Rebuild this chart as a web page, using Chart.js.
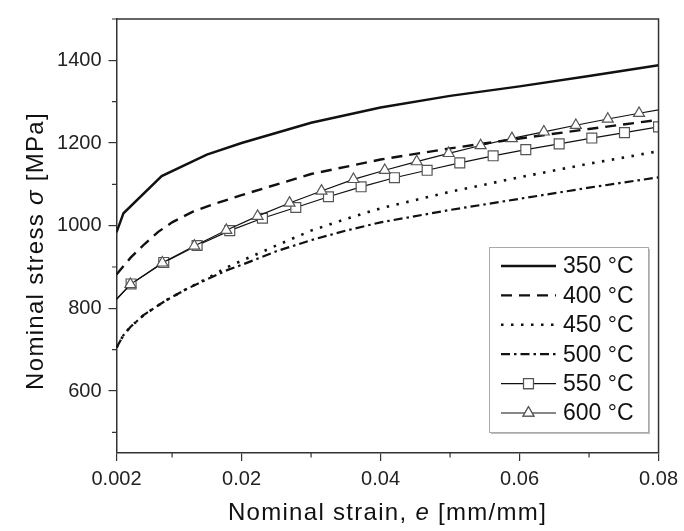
<!DOCTYPE html>
<html>
<head>
<meta charset="utf-8">
<script src="https://cdn.jsdelivr.net/npm/chart.js@4.4.0/dist/chart.umd.min.js"></script>
<style>
  html, body { margin: 0; padding: 0; background: #fff; }
  canvas { display: block; }
</style>
</head>
<body>
<canvas id="myChart" width="684" height="531"></canvas>
<script>
// values
var legendLabels = ["350 °C", "400 °C", "450 °C", "500 °C", "550 °C", "600 °C"];

var strain350 = [0.002, 0.003, 0.0085, 0.015, 0.02, 0.03, 0.04, 0.05, 0.06, 0.07, 0.08];
var stress350 = [984, 1030, 1120, 1172, 1200, 1249, 1286, 1314, 1337, 1362, 1388];

var strain400 = [0.002, 0.004, 0.006, 0.008, 0.01, 0.013, 0.016, 0.02, 0.03, 0.04, 0.05, 0.06, 0.07, 0.08];
var stress400 = [882, 922, 955, 985, 1008, 1034, 1052, 1074, 1125, 1160, 1187, 1211, 1234, 1256];

var strain450 = [0.002, 0.003, 0.004, 0.006, 0.009, 0.012, 0.015, 0.018, 0.02, 0.025, 0.03, 0.035, 0.04, 0.05, 0.06, 0.07, 0.08];
var stress450 = [705, 735, 755, 785, 818, 846, 872, 900, 915, 952, 988, 1016, 1042, 1082, 1117, 1150, 1180];

var strain500 = [0.002, 0.003, 0.004, 0.006, 0.009, 0.012, 0.015, 0.018, 0.02, 0.025, 0.03, 0.035, 0.04, 0.05, 0.06, 0.07, 0.08];
var stress500 = [705, 735, 755, 785, 818, 846, 870, 893, 905, 938, 965, 988, 1008, 1038, 1065, 1092, 1117];

var strain550 = [0.002, 0.0041, 0.0088, 0.0136, 0.0183, 0.023, 0.0278, 0.0325, 0.0372, 0.042, 0.0467,
                 0.0514, 0.0562, 0.0609, 0.0657, 0.0704, 0.0751, 0.08];
var stress550 = [822, 859, 911, 952, 988, 1018, 1044, 1070, 1094, 1116, 1134,
                 1152, 1169, 1184, 1198, 1212, 1225, 1239];

var strain600 = [0.002, 0.004, 0.0086, 0.0132, 0.0178, 0.0223, 0.0269, 0.0315, 0.0361, 0.0406, 0.0452,
                 0.0498, 0.0544, 0.0589, 0.0635, 0.0681, 0.0727, 0.0772, 0.08];
var stress600 = [822, 858, 910, 951, 989, 1023, 1055, 1084, 1112, 1134, 1155,
                 1175, 1194, 1211, 1227, 1243, 1258, 1272, 1280];

var xTicks = [0.002, 0.02, 0.04, 0.06, 0.08];
var xTickLabels = ["0.002", "0.02", "0.04", "0.06", "0.08"];
var xMinor = [0.01, 0.03, 0.05, 0.07];
var yTicks = [600, 800, 1000, 1200, 1400];
var yMinor = [500, 700, 900, 1100, 1300, 1500];

var FONT = "'Liberation Sans', Arial, sans-serif";

function toPoints(xs, ys) {
    return xs.map(function(x, i) { return { x: x, y: ys[i] }; });
}

var styles = [
    { data: toPoints(strain350, stress350), width: 2.4, dash: [] },
    { data: toPoints(strain400, stress400), width: 2.4, dash: [11, 7] },
    { data: toPoints(strain450, stress450), width: 2.6, dash: [2.5, 7.5] },
    { data: toPoints(strain500, stress500), width: 2.2, dash: [9, 4, 2.5, 4] },
    { data: toPoints(strain550, stress550), width: 1.2, dash: [], marker: "rect", r: 7 },
    { data: toPoints(strain600, stress600), width: 1.2, dash: [], marker: "triangle", r: 6.3 }
];

var datasets = styles.map(function(s, i) {
    var n = s.data.length;
    return {
        label: legendLabels[i],
        data: s.data,
        borderColor: "#111",
        borderWidth: s.width,
        borderDash: s.dash,
        tension: 0,
        fill: false,
        pointStyle: s.marker || "circle",
        // markers on every point but the curve ends
        pointRadius: s.marker ? function(ctx) {
            if (ctx.dataIndex === 0) return 0;
            if (s.marker === "triangle" && ctx.dataIndex === n - 1) return 0;
            return s.r;
        } : 0,
        pointHoverRadius: 0,
        pointBackgroundColor: "#fff",
        pointBorderColor: "#555",
        pointBorderWidth: 1.2,
        order: 6 - i
    };
});

function drawRich(ctx, parts, x, y) {
    var total = 0;
    parts.forEach(function(p) {
        ctx.font = p[1];
        total += ctx.measureText(p[0]).width;
    });
    var cx = x - total / 2;
    parts.forEach(function(p) {
        ctx.font = p[1];
        ctx.fillText(p[0], cx, y);
        cx += ctx.measureText(p[0]).width;
    });
}

var extras = {
    id: "extras",
    afterDraw: function(chart) {
        var ctx = chart.ctx;
        var area = chart.chartArea;
        var xs = chart.scales.x, ys = chart.scales.y;
        ctx.save();

        // frame on top and right
        ctx.strokeStyle = "#333";
        ctx.lineWidth = 1.5;
        ctx.beginPath();
        ctx.moveTo(area.left, area.top);
        ctx.lineTo(area.right, area.top);
        ctx.lineTo(area.right, area.bottom);
        ctx.stroke();

        // minor ticks
        ctx.lineWidth = 1.2;
        ctx.beginPath();
        xMinor.forEach(function(v) {
            var px = xs.getPixelForValue(v);
            ctx.moveTo(px, area.bottom);
            ctx.lineTo(px, area.bottom + 4.5);
        });
        yMinor.forEach(function(v) {
            var py = ys.getPixelForValue(v);
            ctx.moveTo(area.left, py);
            ctx.lineTo(area.left - 4.5, py);
        });
        ctx.stroke();

        // axis titles
        ctx.fillStyle = "#111";
        ctx.textBaseline = "alphabetic";
        ctx.letterSpacing = "1.3px";
        drawRich(ctx, [
            ["Nominal strain, ", "24px " + FONT],
            ["e", "italic 24px " + FONT],
            [" [mm/mm]", "24px " + FONT]
        ], (area.left + area.right) / 2, 520);

        ctx.save();
        ctx.translate(43, 251);
        ctx.rotate(-Math.PI / 2);
        drawRich(ctx, [
            ["Nominal stress ", "24px " + FONT],
            ["σ", "italic 24px " + FONT],
            [" [MPa]", "24px " + FONT]
        ], 0, 0);
        ctx.restore();
        ctx.letterSpacing = "0px";

        // legend
        var bx = 489, by = 247, bw = 159, bh = 185;
        ctx.fillStyle = "rgba(0,0,0,0.25)";
        ctx.fillRect(bx + 2, by + 2, bw, bh);
        ctx.fillStyle = "#fff";
        ctx.fillRect(bx, by, bw, bh);
        ctx.strokeStyle = "#aaa";
        ctx.lineWidth = 1;
        ctx.strokeRect(bx + 0.5, by + 0.5, bw, bh);

        ctx.font = "23px " + FONT;
        ctx.textBaseline = "middle";
        legendLabels.forEach(function(label, i) {
            var s = styles[i];
            var yy = 266 + i * 29.4;
            ctx.strokeStyle = "#111";
            ctx.lineWidth = s.width;
            ctx.setLineDash(s.dash);
            ctx.beginPath();
            ctx.moveTo(501, yy);
            ctx.lineTo(556, yy);
            ctx.stroke();
            ctx.setLineDash([]);
            if (s.marker) {
                ctx.fillStyle = "#fff";
                ctx.strokeStyle = "#555";
                ctx.lineWidth = 1.2;
                Chart.helpers.drawPoint(ctx, { pointStyle: s.marker, radius: s.r, borderWidth: 1.2 }, 528.5, yy);
                ctx.fill();
                ctx.stroke();
            }
            ctx.fillStyle = "#111";
            ctx.fillText(label, 563, yy + 1);
        });
        ctx.restore();
    }
};

const myChart = document.getElementById("myChart").getContext("2d");
var displaychart = new Chart(myChart, {
    type: "line",
    data: { datasets: datasets },
    options: {
        responsive: false,
        animation: false,
        devicePixelRatio: 1,
        layout: { padding: { left: 0, right: 24, top: 11, bottom: 0 } },
        plugins: {
            legend: { display: false },
            tooltip: { enabled: false }
        },
        scales: {
            x: {
                type: "linear",
                min: 0.002,
                max: 0.08,
                afterBuildTicks: function(scale) {
                    scale.ticks = xTicks.map(function(v) { return { value: v }; });
                },
                afterFit: function(scale) { scale.height = 78; },
                ticks: {
                    autoSkip: false,
                    maxRotation: 0,
                    padding: 6,
                    color: "#222",
                    font: { family: FONT, size: 20 },
                    callback: function(v, i) { return xTickLabels[i]; }
                },
                grid: { drawOnChartArea: false, tickLength: 8, color: "#333", lineWidth: 1.2 },
                border: { color: "#333", width: 1.5 }
            },
            y: {
                min: 450,
                max: 1500,
                afterBuildTicks: function(scale) {
                    scale.ticks = yTicks.map(function(v) { return { value: v }; });
                },
                afterFit: function(scale) { scale.width = 116.5; },
                ticks: {
                    autoSkip: false,
                    padding: 7,
                    color: "#222",
                    font: { family: FONT, size: 20 },
                    callback: function(v) { return String(v); }
                },
                grid: { drawOnChartArea: false, tickLength: 8, color: "#333", lineWidth: 1.2 },
                border: { color: "#333", width: 1.5 }
            }
        }
    },
    plugins: [extras]
});
</script>
</body>
</html>
